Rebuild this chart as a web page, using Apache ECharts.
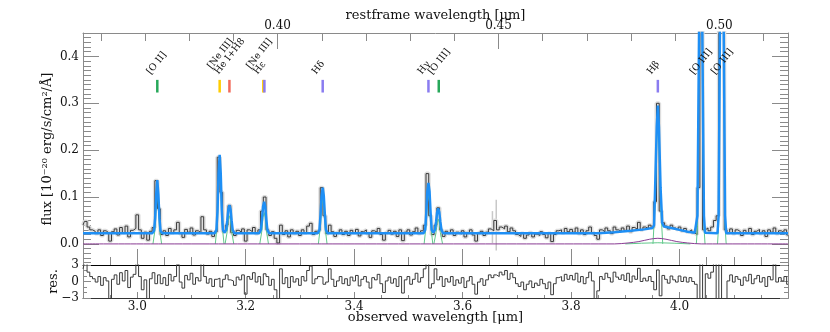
<!DOCTYPE html>
<html>
<head>
<meta charset="utf-8">
<script src="https://cdn.jsdelivr.net/npm/echarts@6.0.0/dist/echarts.min.js"></script>
<style>
  html, body { margin: 0; padding: 0; background: #fff; }
  #chart { width: 830px; height: 332px; }
</style>
</head>
<body>
<div id="chart"></div>
<script>
// observed spectrum, sampled every 0.005 um from 2.900 um
var waveStart = 2.9;
var waveStep = 0.005;
var flux = [
  0.040,0.048,0.036,0.030,0.027,0.022,0.030,0.018,0.028,0.024,0.006,0.026,0.032,0.019,0.035,0.024,0.038,0.015,0.029,0.033,
  0.062,0.030,0.012,0.025,0.008,0.027,0.035,0.135,0.075,0.020,0.028,0.018,0.033,0.024,0.030,0.046,0.022,0.014,0.031,0.025,
  0.034,0.019,0.028,0.024,0.058,0.030,0.021,0.027,0.016,0.026,0.185,0.110,0.026,0.040,0.082,0.024,0.018,0.029,0.025,0.032,
  0.006,0.030,0.026,0.035,0.022,0.030,0.070,0.100,0.030,0.018,0.026,0.012,0.002,0.040,0.020,0.028,0.015,0.030,0.022,0.027,
  0.018,0.030,0.024,0.038,0.044,0.020,0.027,0.030,0.120,0.060,0.022,0.040,0.026,0.016,0.024,0.030,0.020,0.027,0.018,0.029,
  0.024,0.031,0.017,0.026,0.030,0.022,0.014,0.028,0.025,0.033,0.020,0.008,0.024,0.029,0.021,0.027,0.016,0.030,0.007,0.025,
  0.030,0.019,0.026,0.034,0.022,0.028,0.040,0.150,0.060,0.020,0.040,0.077,0.030,0.016,0.027,0.022,0.030,0.018,0.025,0.021,
  0.028,0.015,0.024,0.030,0.019,0.006,0.022,0.027,0.018,0.025,0.032,0.028,0.050,0.030,0.036,0.032,0.038,0.026,0.034,0.028,
  0.020,0.016,0.022,0.012,0.019,0.024,0.015,0.021,0.018,0.026,0.020,0.013,0.022,0.005,0.020,0.028,0.030,0.024,0.033,0.026,
  0.031,0.025,0.034,0.022,0.030,0.020,0.028,0.036,0.024,0.018,0.010,0.030,0.026,0.034,0.028,0.022,0.036,0.030,0.027,0.034,
  0.029,0.038,0.026,0.035,0.031,0.046,0.030,0.036,0.033,0.040,0.035,0.090,0.300,0.070,0.045,0.038,0.032,0.040,0.034,0.030,
  0.036,0.028,0.033,0.026,0.030,0.024,0.020,0.120,1.000,0.030,0.034,0.028,0.036,0.050,0.060,0.500,1.200,0.030,0.024,0.032,
  0.022,0.030,0.026,0.018,0.029,0.024,0.033,0.020,0.027,0.031,0.022,0.028,0.016,0.030,0.025,0.034,0.022,0.028,0.024,0.030,0.019
];
var residual = [
  2.3,3.3,1.7,0.9,0.5,-0.1,0.9,-0.7,0.7,0.1,-3.3,0.4,1.2,-0.5,1.6,0.1,2.0,-1.1,0.8,1.3,
  3.5,0.9,-1.5,0.3,-3.3,0.5,1.6,-0.4,1.2,-0.4,0.7,-0.7,1.3,0.1,0.9,3.1,-0.1,-1.2,1.1,0.3,
  1.5,-0.5,0.7,0.1,3.4,0.9,-0.3,0.5,-0.9,0.4,0.6,-1.0,0.4,1.2,0.3,0.1,-0.7,0.8,0.3,1.2,
  -2.3,0.9,0.4,1.6,-0.1,0.9,-0.6,1.4,0.9,-0.7,0.4,-1.5,-3.2,2.3,-0.4,0.7,-1.1,0.9,-0.1,0.5,
  -0.7,0.9,0.1,2.0,2.8,-0.4,0.5,0.9,0.8,-0.5,-0.1,2.3,0.4,-0.9,0.1,0.9,-0.4,0.5,-0.7,0.8,
  0.1,1.1,-0.8,0.4,0.9,-0.1,-1.2,0.7,0.3,1.3,-0.4,-2.0,0.1,0.8,-0.3,0.5,-0.9,0.9,-2.1,0.3,
  0.9,-0.5,0.4,1.5,-0.1,0.7,2.3,3.3,-1.2,-0.4,2.3,0.3,0.9,-0.9,0.5,-0.1,0.9,-0.7,0.3,-0.3,
  0.7,-1.1,0.1,0.9,-0.5,-2.3,-0.1,0.5,-0.7,0.3,1.2,0.7,1.2,0.9,1.7,1.2,2.0,0.4,1.5,0.7,
  -0.4,-0.9,-0.1,-1.5,-0.5,0.1,-1.1,-0.3,-0.7,0.4,-0.4,-1.3,-0.1,-2.4,-0.4,0.7,0.9,0.1,1.3,0.4,
  1.1,0.3,1.5,-0.1,0.9,-0.4,0.7,1.7,0.1,-3.2,-1.7,0.9,0.4,1.5,0.7,-0.1,1.7,0.8,0.4,1.2,
  0.2,1.5,-0.1,1.0,0.4,2.4,0.0,0.6,0.1,0.9,0.0,-1.5,2.1,-2.6,1.1,0.4,-0.3,1.0,0.3,-0.1,
  1.0,0.0,0.8,-0.1,0.7,0.0,-0.5,-3.5,3.5,-3.5,1.4,0.6,1.7,3.5,-3.5,3.5,-3.5,-3.5,0.1,1.2,
  -0.1,0.9,0.4,-0.7,0.8,0.1,1.3,-0.4,0.5,1.1,-0.1,0.7,-0.9,0.9,0.3,3.2,-0.1,0.7,0.1,0.9,-0.5
];

// big error bars near 3.66 um
var spikeWave = [3.655, 3.662];
var spikeLow = [0.002, -0.014];
var spikeHigh = [0.070, 0.094];

// total model (blue)
var modelCurve = [
  [2.900,0.023],[3.028,0.023],[3.031,0.028],[3.033,0.055],[3.035,0.105],[3.037,0.136],[3.039,0.105],[3.041,0.055],[3.043,0.028],[3.046,0.023],
  [3.143,0.023],[3.146,0.030],[3.148,0.070],[3.150,0.150],[3.152,0.190],[3.154,0.150],[3.156,0.070],[3.158,0.030],[3.161,0.024],
  [3.164,0.030],[3.166,0.050],[3.168,0.074],[3.170,0.083],[3.172,0.074],[3.174,0.050],[3.176,0.030],[3.179,0.023],
  [3.225,0.023],[3.228,0.030],[3.230,0.052],[3.232,0.080],[3.234,0.090],[3.236,0.080],[3.238,0.052],[3.240,0.030],[3.243,0.023],
  [3.333,0.023],[3.336,0.030],[3.338,0.062],[3.340,0.103],[3.342,0.120],[3.344,0.103],[3.346,0.062],[3.348,0.030],[3.351,0.023],
  [3.528,0.023],[3.531,0.030],[3.533,0.066],[3.535,0.112],[3.537,0.130],[3.539,0.112],[3.541,0.066],[3.543,0.030],[3.546,0.024],
  [3.549,0.030],[3.551,0.047],[3.553,0.068],[3.555,0.076],[3.557,0.068],[3.559,0.047],[3.561,0.030],[3.564,0.023],
  [3.850,0.023],[3.880,0.025],[3.910,0.028],[3.935,0.031],[3.950,0.034],
  [3.953,0.040],[3.955,0.120],[3.958,0.250],[3.960,0.295],[3.962,0.250],[3.965,0.120],[3.968,0.045],[3.971,0.037],
  [3.985,0.034],[4.000,0.030],[4.015,0.026],[4.028,0.024],
  [4.031,0.024],[4.033,0.060],[4.036,0.450],[4.039,1.300],[4.042,0.450],[4.045,0.060],[4.047,0.024],
  [4.070,0.023],[4.072,0.060],[4.0745,0.450],[4.078,2.300],[4.0815,0.450],[4.084,0.060],[4.086,0.023],
  [4.200,0.023]
];

// single narrow line components (green)
var lineComponents = [
  [[3.029,0],[3.033,0.032],[3.035,0.082],[3.037,0.113],[3.039,0.082],[3.041,0.032],[3.045,0]],
  [[3.144,0],[3.148,0.047],[3.150,0.127],[3.152,0.167],[3.154,0.127],[3.156,0.047],[3.160,0]],
  [[3.162,0],[3.166,0.027],[3.168,0.051],[3.170,0.060],[3.172,0.051],[3.174,0.027],[3.178,0]],
  [[3.226,0],[3.230,0.029],[3.232,0.057],[3.234,0.067],[3.236,0.057],[3.238,0.029],[3.242,0]],
  [[3.334,0],[3.338,0.039],[3.340,0.080],[3.342,0.097],[3.344,0.080],[3.346,0.039],[3.350,0]],
  [[3.529,0],[3.533,0.043],[3.535,0.089],[3.537,0.107],[3.539,0.089],[3.541,0.043],[3.545,0]],
  [[3.547,0],[3.551,0.024],[3.553,0.045],[3.555,0.053],[3.557,0.045],[3.559,0.024],[3.563,0]],
  [[3.951,0],[3.955,0.086],[3.958,0.216],[3.960,0.261],[3.962,0.216],[3.965,0.086],[3.969,0]],
  [[4.031,0],[4.033,0.037],[4.036,0.430],[4.039,1.280],[4.042,0.430],[4.045,0.037],[4.047,0]],
  [[4.070,0],[4.072,0.037],[4.0745,0.430],[4.078,2.280],[4.0815,0.430],[4.084,0.037],[4.086,0]],
  [[3.900,0],[3.930,0.0015],[3.960,0.0025],[3.990,0.0015],[4.020,0]]
];

// broad H-beta component (purple)
var broadComponent = [
  [2.900,0],[3.880,0],[3.905,0.002],[3.925,0.005],[3.945,0.010],[3.960,0.012],[3.975,0.010],[3.995,0.005],[4.015,0.002],[4.040,0],[4.200,0]
];

// line identifications
var markerWave = [3.037, 3.152, 3.170, 3.2325, 3.2345, 3.342, 3.537, 3.556, 3.960];
var markerColor = ['#27a85a', '#ffcc00', '#f26a5a', '#ffcc00', '#8a7cf0', '#8a7cf0', '#8a7cf0', '#27a85a', '#8a7cf0'];
var labelWave = [3.037, 3.162, 3.234, 3.342, 3.537, 3.556, 3.960, 4.039, 4.078];
var labelText = ['[O II]', '[Ne III]\nHe I+H8', '[Ne III]\nHε', 'Hδ', 'Hγ', '[O III]', 'Hβ', '[O III]', '[O III]'];

// axes
var restFactor = 8.147;
var obsLabels = [3.0, 3.2, 3.4, 3.6, 3.8, 4.0];
var obsMajorTicks = [3.0, 3.2, 3.4, 3.6, 3.8, 4.0];
var obsMinorTicks = [2.95, 3.05, 3.1, 3.15, 3.25, 3.3, 3.35, 3.45, 3.5, 3.55, 3.65, 3.7, 3.75, 3.85, 3.9, 3.95, 4.05, 4.1, 4.15];
var restLabels = [0.40, 0.45, 0.50];
var restMinorTicks = [0.36, 0.37, 0.38, 0.39, 0.41, 0.42, 0.43, 0.44, 0.46, 0.47, 0.48, 0.49, 0.51];
var fluxLabels = [0.0, 0.1, 0.2, 0.3, 0.4];
var resLabels = [-3, 0, 3];
var resMinorTicks = [-2, -1, 1, 2];

var fluxMinorTicks = [];
for (var t = -4; t <= 45; t++) {
    if (t % 10 !== 0) fluxMinorTicks.push(t / 100);
}

var fontFamily = 'DejaVu Serif';
var frameColor = '#8a8a8a';
var fluxMin = -0.045, fluxMax = 0.45;
var markerBottom = 0.323, markerTop = 0.350, labelBase = 0.358;

var spectrum = flux.map(function(f, i) { return [+(waveStart + i * waveStep).toFixed(3), f]; });
var resData = residual.map(function(r, i) { return [+(waveStart + i * waveStep).toFixed(3), r]; });

function tickAxis(opts) {
    var ax = {
        type: 'value',
        gridIndex: opts.grid,
        position: opts.position,
        min: opts.min,
        max: opts.max,
        splitLine: { show: false },
        axisLine: { show: !!opts.lineColor, onZero: false, lineStyle: { color: opts.lineColor || frameColor, width: 1 } },
        axisTick: { show: true, inside: true, length: opts.tickLen, customValues: opts.ticks, lineStyle: { color: frameColor, width: 1 } },
        axisLabel: { show: false }
    };
    if (opts.labels) {
        ax.axisLabel = {
            show: true, customValues: opts.labels, margin: opts.margin,
            fontFamily: fontFamily, fontSize: 12, color: '#111',
            formatter: opts.formatter
        };
    }
    if (opts.name) {
        ax.name = opts.name;
        ax.nameLocation = 'middle';
        ax.nameGap = opts.nameGap;
        ax.nameRotate = opts.nameRotate;
        ax.nameMoveOverlap = false;
        ax.nameTextStyle = { fontFamily: fontFamily, fontSize: 13, color: '#111' };
    }
    return ax;
}

var xAxes = [
    tickAxis({ grid: 0, position: 'bottom', min: 2.9, max: 4.2, lineColor: '#000', tickLen: 16, ticks: obsMajorTicks }),
    tickAxis({ grid: 0, position: 'bottom', min: 2.9, max: 4.2, tickLen: 8, ticks: obsMinorTicks }),
    tickAxis({ grid: 0, position: 'top', min: 2.9 / restFactor, max: 4.2 / restFactor, lineColor: frameColor, tickLen: 16,
        ticks: restLabels, labels: restLabels, margin: 1, formatter: function(v) { return v.toFixed(2); },
        name: 'restframe wavelength [μm]', nameGap: 11 }),
    tickAxis({ grid: 0, position: 'top', min: 2.9 / restFactor, max: 4.2 / restFactor, tickLen: 8, ticks: restMinorTicks }),
    tickAxis({ grid: 1, position: 'bottom', min: 2.9, max: 4.2, lineColor: '#333', tickLen: 6, ticks: obsMajorTicks,
        labels: obsLabels, margin: 3, formatter: function(v) { return v.toFixed(1); },
        name: 'observed wavelength [μm]', nameGap: 13 }),
    tickAxis({ grid: 1, position: 'bottom', min: 2.9, max: 4.2, tickLen: 3, ticks: obsMinorTicks })
];

var yAxes = [
    tickAxis({ grid: 0, position: 'left', min: fluxMin, max: fluxMax, lineColor: frameColor, tickLen: 16, ticks: fluxLabels,
        labels: fluxLabels, margin: 4, formatter: function(v) { return v.toFixed(1); },
        name: 'flux [10⁻²⁰ erg/s/cm²/Å]', nameGap: 29, nameRotate: 90 }),
    tickAxis({ grid: 0, position: 'left', min: fluxMin, max: fluxMax, tickLen: 8, ticks: fluxMinorTicks }),
    tickAxis({ grid: 0, position: 'right', min: fluxMin, max: fluxMax, lineColor: frameColor, tickLen: 16, ticks: fluxLabels }),
    tickAxis({ grid: 0, position: 'right', min: fluxMin, max: fluxMax, tickLen: 8, ticks: fluxMinorTicks }),
    tickAxis({ grid: 1, position: 'left', min: -3, max: 3, lineColor: frameColor, tickLen: 8, ticks: resLabels,
        labels: resLabels, margin: 4, formatter: function(v) { return v < 0 ? '−' + Math.abs(v) : String(v); },
        name: 'res.', nameGap: 23, nameRotate: 90 }),
    tickAxis({ grid: 1, position: 'left', min: -3, max: 3, tickLen: 4, ticks: resMinorTicks }),
    tickAxis({ grid: 1, position: 'right', min: -3, max: 3, lineColor: frameColor, tickLen: 8, ticks: resLabels }),
    tickAxis({ grid: 1, position: 'right', min: -3, max: 3, tickLen: 4, ticks: resMinorTicks })
];

var series = [];

series.push({
    type: 'line', xAxisIndex: 0, yAxisIndex: 0, data: spectrum, step: 'middle',
    symbol: 'none', silent: true, z: 1,
    lineStyle: { color: '#dedede', width: 4 }
});
series.push({
    type: 'custom', xAxisIndex: 0, yAxisIndex: 0, silent: true, z: 1,
    data: spikeWave.map(function(w, i) { return [w, spikeLow[i], spikeHigh[i]]; }),
    renderItem: function(params, api) {
        var p1 = api.coord([api.value(0), api.value(1)]);
        var p2 = api.coord([api.value(0), api.value(2)]);
        return { type: 'line', shape: { x1: p1[0], y1: p1[1], x2: p2[0], y2: p2[1] }, style: { stroke: '#c8c8c8', lineWidth: 1.5 } };
    }
});
series.push({
    type: 'line', xAxisIndex: 0, yAxisIndex: 0, data: spectrum, step: 'middle',
    symbol: 'none', silent: true, z: 2,
    lineStyle: { color: '#3a3a3a', width: 1 }
});
lineComponents.forEach(function(comp) {
    series.push({
        type: 'line', xAxisIndex: 0, yAxisIndex: 0, data: comp,
        symbol: 'none', silent: true, z: 3,
        lineStyle: { color: '#62c98c', width: 1 }
    });
});
series.push({
    type: 'line', xAxisIndex: 0, yAxisIndex: 0, data: broadComponent, smooth: 0.3,
    symbol: 'none', silent: true, z: 3,
    lineStyle: { color: '#8a3c94', width: 1 }
});
series.push({
    type: 'line', xAxisIndex: 0, yAxisIndex: 0, data: modelCurve,
    symbol: 'none', silent: true, z: 4,
    lineStyle: { color: '#1e8ff5', width: 2.5 }
});
series.push({
    type: 'custom', xAxisIndex: 0, yAxisIndex: 0, silent: true, z: 5,
    data: markerWave.map(function(w, i) { return [w, i]; }),
    renderItem: function(params, api) {
        var w = api.value(0), k = api.value(1);
        var p1 = api.coord([w, markerBottom]);
        var p2 = api.coord([w, markerTop]);
        return { type: 'line', shape: { x1: p1[0], y1: p1[1], x2: p2[0], y2: p2[1] },
                 style: { stroke: markerColor[k], lineWidth: 2.5 } };
    }
});
series.push({
    type: 'custom', xAxisIndex: 0, yAxisIndex: 0, silent: true, z: 5,
    data: labelWave.map(function(w, i) { return [w, i]; }),
    renderItem: function(params, api) {
        var w = api.value(0), k = api.value(1);
        var p = api.coord([w, labelBase]);
        return { type: 'text', x: p[0] - 5, y: p[1], rotation: 52 * Math.PI / 180,
                 style: { text: labelText[k], fontFamily: fontFamily, fontSize: 9.5, lineHeight: 9,
                          fill: '#111', align: 'left', verticalAlign: 'bottom' } };
    }
});
series.push({
    type: 'line', xAxisIndex: 4, yAxisIndex: 4, data: resData, step: 'middle',
    symbol: 'none', silent: true, z: 2,
    lineStyle: { color: '#3a3a3a', width: 1 }
});

var chart = echarts.init(document.getElementById('chart'), null, { renderer: 'canvas' });
chart.setOption({
    animation: false,
    backgroundColor: '#fff',
    grid: [
        { left: 83, right: 42, top: 33, height: 232 },
        { left: 83, right: 42, top: 265, height: 33 }
    ],
    xAxis: xAxes,
    yAxis: yAxes,
    series: series
});
</script>
</body>
</html>
